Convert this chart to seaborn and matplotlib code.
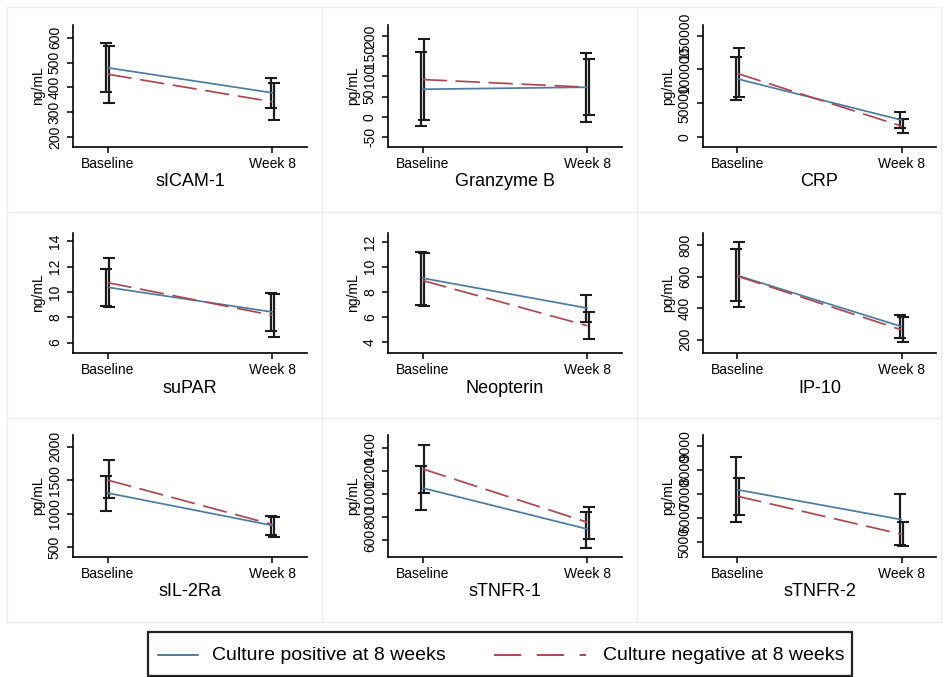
import numpy as np
import pandas as pd
import matplotlib
matplotlib.use("Agg")
import matplotlib.pyplot as plt
import seaborn as sns
from matplotlib.lines import Line2D
from matplotlib.patches import Rectangle

# panel data: [baseline, week 8]
markers = ['sICAM-1', 'Granzyme B', 'CRP', 'suPAR', 'Neopterin', 'IP-10',
           'sIL-2Ra', 'sTNFR-1', 'sTNFR-2']
units = ['ng/mL', 'pg/mL', 'pg/mL', 'ng/mL', 'ng/mL', 'pg/mL',
         'pg/mL', 'pg/mL', 'pg/mL']
times = ['Baseline', 'Week 8']

pos_mean = [[479, 378], [68, 73], [86000, 25000], [10.37, 8.42], [9.09, 6.69],
            [608, 284], [1307, 822], [1053, 697], [7168, 5930]]
pos_lo = [[381, 318], [-23, -13], [55000, 13500], [8.9, 6.9], [6.95, 5.6],
          [448, 209], [1045, 673], [859, 535], [5823, 4860]]
pos_hi = [[577, 438], [161, 158], [118000, 36500], [11.79, 9.95], [11.2, 7.77],
          [775, 358], [1564, 970], [1247, 848], [8513, 7000]]

neg_mean = [[453, 342], [92, 73], [94000, 16000], [10.74, 8.16], [8.9, 5.28],
            [604, 263], [1500, 837], [1218, 756], [6900, 5323]]
neg_lo = [[338, 267], [-8, 4], [59000, 6000], [8.83, 6.45], [6.83, 4.2],
          [410, 183], [1233, 653], [1012, 609], [6135, 4823]]
neg_hi = [[568, 418], [192, 142], [131500, 26000], [12.66, 9.84], [11.1, 6.36],
          [821, 343], [1802, 950], [1424, 886], [7665, 5823]]

yticks = [[200, 300, 400, 500, 600], [-50, 0, 50, 100, 150, 200],
          [0, 50000, 100000, 150000], [6, 8, 10, 12, 14], [4, 6, 8, 10, 12],
          [200, 400, 600, 800], [500, 1000, 1500, 2000],
          [600, 800, 1000, 1200, 1400], [5000, 6000, 7000, 8000, 9000]]

POS = 'Culture positive at 8 weeks'
NEG = 'Culture negative at 8 weeks'

# axis settings (not data)
ylims = [(160, 651), (-75, 227), (-15000, 166000), (5.18, 14.66), (3.1, 12.7),
         (116, 878), (351, 2173), (455, 1512), (4382, 9435)]

BLUE = '#4d7ca3'
RED = '#ad4853'
BAR = '#1c1c1c'

W, H = 947, 677
sns.set_style('ticks')
plt.rcParams['font.family'] = ['Liberation Sans', 'DejaVu Sans']
plt.rcParams['text.color'] = 'black'
plt.rcParams['axes.labelcolor'] = 'black'
plt.rcParams['xtick.color'] = 'black'
plt.rcParams['ytick.color'] = 'black'

fig = plt.figure(figsize=(W / 100, H / 100), dpi=100)

lefts, rights = [73, 388, 703], [307, 622, 936]
tops, bottoms = [25, 233, 435], [147, 353, 557]

# faint frames around each sub-graph
for xs in [7, 322, 637, 941]:
    fig.add_artist(Line2D([xs / W] * 2, [1 - 7 / H, 1 - 622 / H],
                          transform=fig.transFigure, color='#ececec', lw=1))
for ys in [7, 212, 418, 622]:
    fig.add_artist(Line2D([7 / W, 941 / W], [1 - ys / H] * 2,
                          transform=fig.transFigure, color='#ececec', lw=1))

for i, name in enumerate(markers):
    row, col = divmod(i, 3)
    l, r, t, b = lefts[col], rights[col], tops[row], bottoms[row]
    ax = fig.add_axes([l / W, 1 - b / H, (r - l) / W, (b - t) / H])

    df = pd.DataFrame({
        'time': [0, 1, 0, 1],
        'value': pos_mean[i] + neg_mean[i],
        'group': [POS, POS, NEG, NEG],
    })

    # confidence interval caps, slightly dodged
    for mean, lo, hi, off in [(pos_mean[i], pos_lo[i], pos_hi[i], -0.008),
                              (neg_mean[i], neg_lo[i], neg_hi[i], 0.008)]:
        mean = np.array(mean)
        ax.errorbar(np.array([0, 1]) + off, mean,
                    yerr=[mean - np.array(lo), np.array(hi) - mean],
                    fmt='none', ecolor=BAR, elinewidth=1.6,
                    capsize=4.2, capthick=1.5, zorder=2)

    sns.lineplot(data=df, x='time', y='value', hue='group', style='group',
                 palette={POS: BLUE, NEG: RED},
                 dashes={POS: '', NEG: (14, 5)},
                 lw=1.25, legend=False, ax=ax, zorder=3)

    ax.set_xlim(-0.21, 1.21)
    ax.set_ylim(*ylims[i])
    ax.set_xticks([0, 1])
    ax.set_xticklabels(times, fontsize=10)
    ax.set_yticks(yticks[i])
    ax.set_yticklabels([str(v) for v in yticks[i]], rotation=90,
                       va='center', fontsize=10)
    ax.tick_params(axis='both', direction='out', length=4, width=1.1,
                   color='black')
    ax.tick_params(axis='y', pad=4)
    ax.tick_params(axis='x', pad=3.5)
    sns.despine(ax=ax)
    for sp in ['left', 'bottom']:
        ax.spines[sp].set_linewidth(1.2)
        ax.spines[sp].set_color('black')

    ax.set_xlabel(name, fontsize=13, va='center')
    ax.xaxis.set_label_coords(0.5, -35 / (b - t))
    ax.set_ylabel(units[i], fontsize=10, va='center')
    ax.yaxis.set_label_coords(-35 / (r - l), 0.5)

# legend box at the bottom
fig.add_artist(Rectangle((148 / W, 1 - 676 / H), (852 - 148) / W, (676 - 632) / H,
                         transform=fig.transFigure, fill=False,
                         ec='#222222', lw=1.6))
ly = 1 - 655 / H
fig.add_artist(Line2D([158 / W, 198 / W], [ly, ly], transform=fig.transFigure,
                      color=BLUE, lw=1.4))
fig.add_artist(Line2D([494 / W, 586 / W], [ly, ly], transform=fig.transFigure,
                      color=RED, lw=1.4, dashes=(14, 8)))
fig.text(212 / W, ly, POS, fontsize=14, va='center', ha='left')
fig.text(603 / W, ly, NEG, fontsize=14, va='center', ha='left')

fig.savefig('out.png', dpi=100)
